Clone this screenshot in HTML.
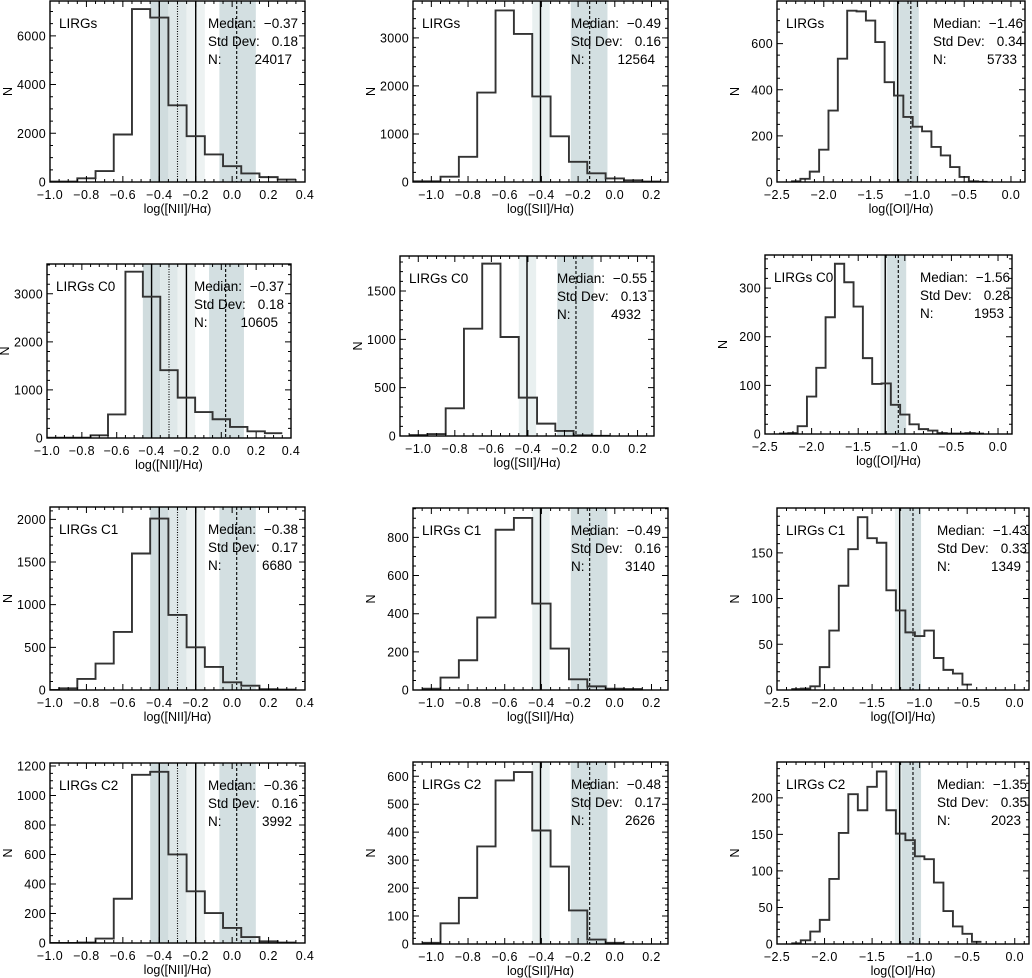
<!DOCTYPE html>
<html><head><meta charset="utf-8"><style>
html,body{margin:0;padding:0;background:#fff;}
svg{display:block;font-family:"Liberation Sans",Arial,sans-serif;}
</style></head><body>
<svg id="fig" width="1032" height="978" viewBox="0 0 1032 978" xmlns="http://www.w3.org/2000/svg"></svg>
<script>
// ---------- data (counts per 0.1-dex bin) ----------
const niiAll = [20,20,150,450,1950,7100,6750,3150,1880,1130,650,350,200,100];
const niiC0  = [5,5,5,55,490,3460,2940,1410,840,540,390,230,140,100];
const niiC1  = [0,20,130,310,680,1600,2010,880,500,270,90,50,10,5];
const niiC2  = [0,0,3,30,300,1140,1160,600,350,203,102,40,11,3];
const siiAll = [15,15,110,525,1860,3570,3080,1780,950,420,180,75,35,10];
const siiC0  = [10,20,286,1110,1783,1024,397,128,52,7,2];
const siiC1  = [7,65,156,380,840,902,453,217,56,19,7,5];
const siiC2  = [4,74,165,349,585,615,406,277,120,16,4];
const oiAll  = [3,14,45,140,310,535,743,740,700,607,433,375,282,240,220,152,115,65,22,3,1];
const oiC0   = [1,2,16,77,136,240,350,312,262,156,103,104,60,40,20,10,7,2,1,1,2,1];
const oiC1   = [1,1.5,4,25,65,114,154,189,166,161,109,87,63,59,65,35,22,18,6];
const oiC2   = [1,5,17,33,89,152,205,183,215,236,183,151,142,120,116,84,45,24,14,3];
// first bin centre of each histogram
const binStartNII = [-1.0,-1.0,-1.0,-1.0];
const binStartSII = [-1.1,-1.0,-1.0,-1.0];
const binStartOI  = [-2.3,-2.3,-2.3,-2.3];
const binWidth = 0.1;
// y-axis tick labels
const yTicksNII = [[0,2000,4000,6000],[0,1000,2000,3000],[0,500,1000,1500,2000],[0,200,400,600,800,1000,1200]];
const yTicksSII = [[0,1000,2000,3000],[0,500,1000,1500],[0,200,400,600,800],[0,100,200,300,400,500,600]];
const yTicksOI  = [[0,200,400,600],[0,100,200,300],[0,50,100,150],[0,50,100,150,200]];
const yMaxNII = [7430,3620,2145,1220];
const yMaxSII = [3766,1862,954,651];
const yMaxOI  = [785,368,199,249];
// x-axis tick labels
const xTicksNII = [-1.0,-0.8,-0.6,-0.4,-0.2,0.0,0.2,0.4];
const xTicksSII = [-1.0,-0.8,-0.6,-0.4,-0.2,0.0,0.2];
const xTicksOI  = [-2.5,-2.0,-1.5,-1.0,-0.5,0.0];
// annotations
const sampleNames = ["LIRGs","LIRGs C0","LIRGs C1","LIRGs C2"];
const mediansNII = ["\u22120.37","\u22120.37","\u22120.38","\u22120.36"];
const stdNII = ["0.18","0.18","0.17","0.16"];
const nNII = ["24017","10605","6680","3992"];
const mediansSII = ["\u22120.49","\u22120.55","\u22120.49","\u22120.48"];
const stdSII = ["0.16","0.13","0.16","0.17"];
const nSII = ["12564","4932","3140","2626"];
const mediansOI = ["\u22121.46","\u22121.56","\u22121.43","\u22121.35"];
const stdOI = ["0.34","0.28","0.33","0.35"];
const nOI = ["5733","1953","1349","2023"];
// reference lines / shaded ranges (in dex)
const bandsNII = [[-0.45,-0.35,'#d0dcde'],[-0.35,-0.25,'#dfe8e9'],[-0.25,-0.15,'#edf2f2'],[-0.07,0.13,'#d3dfe1']];
const linesNII = [[-0.40,'solid'],[-0.30,'dotted'],[-0.20,'solid'],[0.025,'dashed']];
const bandsSII = [[-0.45,-0.355,'#e9f0f0'],[-0.24,-0.04,'#d3dfe1']];
const linesSII = [[-0.405,'solid'],[-0.137,'dashed']];
const bandsOI = [[-1.26,-1.19,'#e9f0f0'],[-1.19,-0.985,'#d3dfe1']];
const linesOI = [[-1.21,'solid'],[-1.07,'dashed']];

// ---------- layout (pixels) ----------
const frames = {
  nii:[[50,305,1,182],[47,291,264,438],[50,305,507,690],[50,305,763,943]],
  sii:[[413,668,1,182],[400,654,256,436],[413,668,508,690],[413,668,762,944]],
  oi: [[777,1025,1,182],[765,1012,255,434],[777,1029,508,690],[777,1029,762,944]]
};
const cols = [
  {key:'nii', xmin:-1.0, xmax:0.4, minor:0.05, xt:xTicksNII, title:'log([NII]/H\u03b1)', data:[niiAll,niiC0,niiC1,niiC2], start:binStartNII, yt:yTicksNII, ym:yMaxNII, med:mediansNII, sd:stdNII, n:nNII, bands:bandsNII, lines:linesNII, statR:7, statW:97},
  {key:'sii', xmin:-1.1, xmax:0.29, minor:0.05, xt:xTicksSII, title:'log([SII]/H\u03b1)', data:[siiAll,siiC0,siiC1,siiC2], start:binStartSII, yt:yTicksSII, ym:yMaxSII, med:mediansSII, sd:stdSII, n:nSII, bands:bandsSII, lines:linesSII, statR:7, statW:97},
  {key:'oi', xmin:-2.5, xmax:0.15, minor:0.1, xt:xTicksOI, title:'log([OI]/H\u03b1)', data:[oiAll,oiC0,oiC1,oiC2], start:binStartOI, yt:yTicksOI, ym:yMaxOI, med:mediansOI, sd:stdOI, n:nOI, bands:bandsOI, lines:linesOI, statR:2, statW:92}
];

const NS='http://www.w3.org/2000/svg';
const svg=document.getElementById('fig');
function mk(tag, parent){const e=document.createElementNS(NS,tag); parent.appendChild(e); return e;}
function fmtX(v){const s=Math.abs(v).toFixed(1); return (v< -1e-9?'\u2212':'')+s;}

cols.forEach((c,ci)=>{
  for(let r=0;r<4;r++){
    const [L,R,T,B]=frames[c.key][r];
    const X=v=>L+(v-c.xmin)/(c.xmax-c.xmin)*(R-L);
    const ymax=c.ym[r];
    const Y=v=>B-(v/ymax)*(B-T);
    const g=mk('g',svg);
    
    
    const clipId='clip-'+c.key+'-'+r;
    const cp=mk('clipPath',g); cp.setAttribute('id',clipId);
    const cr=mk('rect',cp); cr.setAttribute('x',L); cr.setAttribute('y',T); cr.setAttribute('width',R-L); cr.setAttribute('height',B-T);
    c.bands.forEach(b=>{
      const rc=mk('rect',g);
      
      
      rc.setAttribute('x',X(b[0])); rc.setAttribute('y',T); rc.setAttribute('width',X(b[1])-X(b[0])); rc.setAttribute('height',B-T); rc.setAttribute('fill',b[2]);
    });
    c.lines.forEach(l=>{
      const ln=mk('line',g);
      
      
      ln.setAttribute('x1',X(l[0])); ln.setAttribute('x2',X(l[0])); ln.setAttribute('y1',T); ln.setAttribute('y2',B);
      ln.setAttribute('stroke','#000'); ln.setAttribute('stroke-width',l[1]==='solid'?1.4:1.1);
      if(l[1]==='dashed') ln.setAttribute('stroke-dasharray','3,2');
      if(l[1]==='dotted') ln.setAttribute('stroke-dasharray','1,1.5');
    });
    const vals=c.data[r]; const s0=c.start[r];
    let d='';
    vals.forEach((v,i)=>{
      const cen=s0+i*binWidth;
      const e0=X(cen-binWidth/2), e1=X(cen+binWidth/2);
      if(i===0) d+='M'+e0+','+Y(v); else d+='V'+Y(v);
      d+='H'+e1;
    });
    const hp=mk('path',g);
    
    
    hp.setAttribute('d',d); hp.setAttribute('fill','none'); hp.setAttribute('stroke','#333'); hp.setAttribute('stroke-width',1.9);
    hp.setAttribute('clip-path','url(#'+clipId+')');
    const fr=mk('rect',g);
    
    
    fr.setAttribute('x',L); fr.setAttribute('y',T); fr.setAttribute('width',R-L); fr.setAttribute('height',B-T);
    fr.setAttribute('fill','none'); fr.setAttribute('stroke','#000'); fr.setAttribute('stroke-width',1.4);
    let tp='';
    const nMinor=Math.round((c.xmax-c.xmin)/c.minor)+2;
    for(let k=-1;k<nMinor;k++){
      const v=Math.ceil(c.xmin/c.minor)*c.minor+k*c.minor;
      if(v<c.xmin-1e-6||v>c.xmax+1e-6) continue;
      const x=X(v); tp+='M'+x+','+B+'v-3M'+x+','+T+'v3';
    }
    c.xt.forEach(v=>{const x=X(v); tp+='M'+x+','+B+'v-6M'+x+','+T+'v6';
      const t=mk('text',g);
      
      
      t.setAttribute('x',x); t.setAttribute('y',B+17); t.setAttribute('text-anchor','middle'); t.setAttribute('font-size','12.5'); t.setAttribute('letter-spacing','0.4');
      t.textContent=fmtX(v);
    });
    const yt=c.yt[r]; const ystep=yt[1]-yt[0];
    const ym=(ystep===2000||ystep===200)?ystep/4:ystep/5;
    for(let v=0;v<=ymax;v+=ym){const y=Y(v); tp+='M'+L+','+y+'h3M'+R+','+y+'h-3';}
    yt.forEach(v=>{const y=Y(v); tp+='M'+L+','+y+'h6M'+R+','+y+'h-6';
      const t=mk('text',g);
      
      
      t.setAttribute('x',L-4); t.setAttribute('y',y+4.5); t.setAttribute('text-anchor','end'); t.setAttribute('font-size','12.5'); t.setAttribute('letter-spacing','0.3');
      t.textContent=String(v);
    });
    const tk=mk('path',g);
    
    
    tk.setAttribute('d',tp); tk.setAttribute('stroke','#000'); tk.setAttribute('stroke-width',1); tk.setAttribute('fill','none');
    const xt=mk('text',g);
    
    
    xt.setAttribute('x',(L+R)/2); xt.setAttribute('y',B+31); xt.setAttribute('text-anchor','middle'); xt.setAttribute('font-size','12.5');
    xt.textContent=c.title;
    const ytl=mk('text',g);
    
    
    const yx=L-38, yy=(T+B)/2;
    ytl.setAttribute('x',yx); ytl.setAttribute('y',yy); ytl.setAttribute('text-anchor','middle'); ytl.setAttribute('font-size','12.5');
    ytl.setAttribute('transform','rotate(-90 '+yx+' '+yy+')');
    ytl.textContent='N';
    const lb=mk('text',g);
    
    
    lb.setAttribute('x',L+9); lb.setAttribute('y',T+27); lb.setAttribute('font-size','13.5');
    lb.textContent=sampleNames[r];
    const rows=[['Median:',c.med[r]],['Std Dev:',c.sd[r]],['N:',c.n[r]]];
    rows.forEach((rw,k)=>{
      const y=T+27+k*18;
      const a=mk('text',g);
      
      
      a.setAttribute('x',R-c.statW); a.setAttribute('y',y); a.setAttribute('font-size','13.5');
      a.textContent=rw[0];
      const b=mk('text',g);
      
      
      b.setAttribute('x',R-c.statR-(k===2?6:0)); b.setAttribute('y',y); b.setAttribute('font-size','13.5'); b.setAttribute('text-anchor','end');
      b.textContent=rw[1];
    });
  }
});
</script>
</body></html>
